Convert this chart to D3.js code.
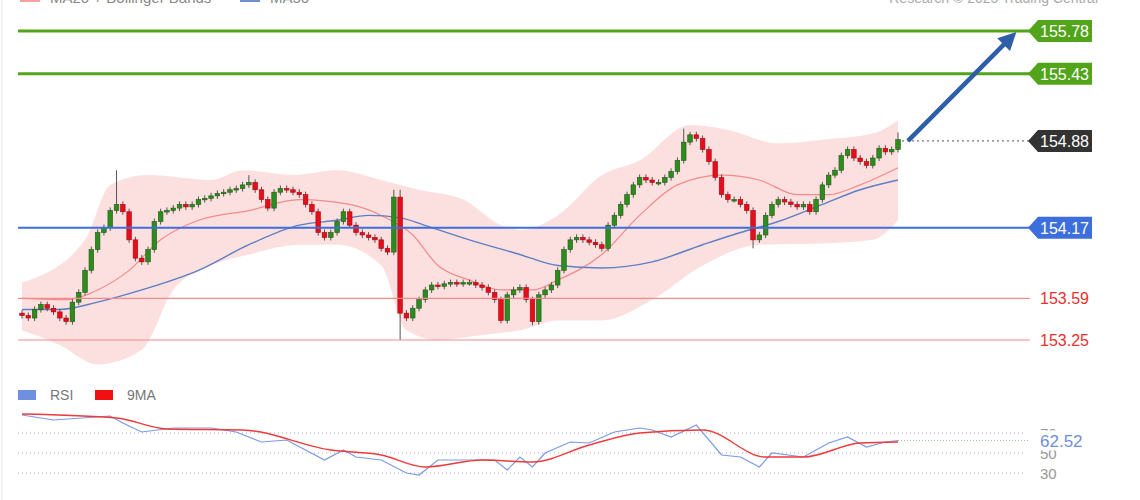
<!DOCTYPE html>
<html>
<head>
<meta charset="utf-8">
<script src="https://cdn.jsdelivr.net/npm/d3@7"></script>
<style>
  body { margin: 0; background: #fff; font-family: "Liberation Sans", Arial, sans-serif; }
  svg { display: block; }
</style>
</head>
<body>
<div class="canvas"></div>
<script>
// price data (candle closes, open = previous close)
const firstOpen = 153.47;
const closes = [
    153.45,153.43,153.50,153.54,153.51,153.48,153.43,153.40,153.56,153.64,
    153.82,153.99,154.13,154.17,154.31,154.36,154.30,154.07,153.92,153.89,
    153.99,154.22,154.30,154.31,154.33,154.36,154.34,154.36,154.40,154.41,
    154.43,154.45,154.46,154.48,154.49,154.52,154.54,154.48,154.40,154.33,
    154.46,154.49,154.48,154.46,154.44,154.36,154.30,154.13,154.09,154.13,
    154.22,154.30,154.19,154.13,154.11,154.09,154.07,154.00,153.97,154.42,
    153.47,153.43,153.51,153.58,153.66,153.70,153.69,153.71,153.72,153.71,
    153.72,153.72,153.70,153.68,153.64,153.58,153.41,153.62,153.66,153.68,
    153.58,153.40,153.62,153.66,153.70,153.82,153.99,154.07,154.09,154.07,
    154.05,154.03,154.00,154.19,154.27,154.36,154.44,154.52,154.58,154.56,
    154.54,154.54,154.58,154.63,154.72,154.87,154.93,154.90,154.81,154.71,
    154.58,154.44,154.40,154.40,154.36,154.31,154.07,154.11,154.27,154.36,
    154.40,154.38,154.36,154.34,154.36,154.30,154.40,154.52,154.60,154.64,
    154.76,154.81,154.74,154.71,154.68,154.74,154.82,154.79,154.81,154.89
];
const highOverrides = {15: 154.64, 36: 154.60, 59: 154.48, 60: 154.48, 105: 154.98, 139: 154.95};
const lowOverrides = {60: 153.25, 81: 153.37, 116: 154.00};
const wick = 0.025;

// [candle index, price]
const bandUpper = [[0,153.72],[10,154.07],[14,154.52],[20,154.60],[30,154.56],[35,154.64],[43,154.60],[50,154.64],[57,154.56],[63,154.48],[70,154.40],[76,154.19],[79,154.15],[85,154.27],[92,154.60],[98,154.72],[106,155.01],[112,154.97],[120,154.86],[127,154.89],[135,154.94],[139,155.05]];
const bandLower = [[0,153.33],[6,153.21],[12,153.05],[19,153.17],[24,153.66],[30,153.86],[36,153.95],[44,154.03],[50,154.03],[57,153.86],[61,153.33],[66,153.25],[73,153.29],[79,153.33],[85,153.41],[92,153.41],[100,153.58],[108,153.86],[117,154.03],[127,154.04],[135,154.07],[139,154.23]];
const ma20 = [[0,153.59],[7,153.58],[12,153.66],[17,153.82],[22,154.07],[28,154.23],[36,154.31],[44,154.40],[52,154.36],[57,154.27],[62,154.11],[66,153.86],[71,153.74],[76,153.66],[81,153.66],[85,153.74],[92,153.95],[98,154.27],[104,154.52],[111,154.60],[117,154.56],[123,154.44],[128,154.44],[133,154.52],[139,154.66]];
const ma50 = [[0,153.50],[6,153.50],[12,153.56],[19,153.66],[28,153.82],[36,154.03],[44,154.19],[50,154.23],[55,154.27],[60,154.25],[65,154.17],[71,154.07],[79,153.95],[85,153.86],[92,153.84],[100,153.89],[108,154.03],[114,154.13],[120,154.22],[127,154.36],[133,154.48],[139,154.56]];

const rsi = [[0,88],[5,83],[14,87],[16,80],[19,71],[24,75],[30,75],[34,71],[38,61],[42,63],[48,43],[51,53],[53,46],[57,43],[61,30],[63,28],[66,43],[75,43],[77,33],[79,46],[81,36],[83,50],[87,61],[90,60],[94,71],[98,75],[100,73],[103,66],[107,78],[111,48],[114,46],[117,36],[119,50],[124,46],[128,60],[131,66],[134,56],[137,61],[139,62.52]];
const rsiMA = [[0,89],[15,85],[23,74],[35,73],[49,53],[57,48],[64,36],[73,43],[81,41],[90,58],[98,70],[108,73],[118,46],[124,46],[133,60],[139,61]];
const rsiLevels = [70, 50, 30];

const levels = [
    {value: 155.78, kind: 'green'},
    {value: 155.43, kind: 'green'},
    {value: 154.88, kind: 'last'},
    {value: 154.17, kind: 'blue'},
    {value: 153.59, kind: 'red'},
    {value: 153.25, kind: 'red'}
];

const svg = d3.select('.canvas').append('svg').attr('width', 1140).attr('height', 500);

const x = d3.scaleLinear().domain([0, closes.length - 1]).range([22, 898]);
const y = d3.scaleLinear().domain([153.25, 155.78]).range([340, 31]);
const yr = d3.scaleLinear().domain([30, 70]).range([473, 433]);

svg.append('line').attr('x1', 2).attr('x2', 2).attr('y1', 0).attr('y2', 500).attr('stroke', '#e4e6ee');

// top legend (cut off)
svg.append('rect').attr('x', 20).attr('y', -4).attr('width', 20).attr('height', 6).attr('fill', '#f7a0a0');
svg.append('text').attr('x', 50).attr('y', 3).attr('font-size', 15).attr('fill', '#888').text('MA20 + Bollinger Bands');
svg.append('rect').attr('x', 240).attr('y', -4).attr('width', 20).attr('height', 6).attr('fill', '#6f8fd0');
svg.append('text').attr('x', 270).attr('y', 3).attr('font-size', 15).attr('fill', '#888').text('MA50');
svg.append('text').attr('x', 1098).attr('y', 3).attr('text-anchor', 'end').attr('font-size', 14).attr('fill', '#aaa').text('Research © 2025 Trading Central');

// bollinger band
const bandData = bandUpper.map((d, i) => ({i: d[0], hi: d[1], lo: null}));
const lowerFn = d3.scaleLinear().domain(bandLower.map(d => d[0])).range(bandLower.map(d => d[1]));
const area = d3.area().curve(d3.curveMonotoneX)
    .x(d => x(d[0])).y0(d => y(d[1])).y1(d => y(d[2]));
const upperPath = d3.line().curve(d3.curveMonotoneX).x(d => x(d[0])).y(d => y(d[1]));
svg.append('path')
    .attr('d', upperPath(bandUpper) + 'L' + upperPath(bandLower.slice().reverse()).slice(1))
    .attr('fill', '#fcd9d9').attr('opacity', 0.85);

const lineGen = d3.line().curve(d3.curveMonotoneX).x(d => x(d[0])).y(d => y(d[1]));
svg.append('path').attr('d', lineGen(ma20)).attr('fill', 'none').attr('stroke', '#f48a8a').attr('stroke-width', 1.2);
svg.append('path').attr('d', lineGen(ma50)).attr('fill', 'none').attr('stroke', '#5d7fc4').attr('stroke-width', 1.4);

// candles
const candles = closes.map((c, i) => {
    const o = i === 0 ? firstOpen : closes[i - 1];
    return {
        i, o, c,
        h: highOverrides[i] ?? Math.max(o, c) + wick,
        l: lowOverrides[i] ?? Math.min(o, c) - wick
    };
});
const cg = svg.append('g');
cg.selectAll('line').data(candles).enter().append('line')
    .attr('x1', d => x(d.i)).attr('x2', d => x(d.i))
    .attr('y1', d => y(d.h)).attr('y2', d => y(d.l))
    .attr('stroke', '#555').attr('stroke-width', 1);
cg.selectAll('rect').data(candles).enter().append('rect')
    .attr('x', d => x(d.i) - 2.3).attr('width', 4.6)
    .attr('y', d => y(Math.max(d.o, d.c)))
    .attr('height', d => Math.max(1.5, Math.abs(y(d.o) - y(d.c))))
    .attr('fill', d => d.c >= d.o ? '#2e8b1e' : '#e3101c')
    .attr('stroke', d => d.c >= d.o ? '#1d5a12' : '#b00010').attr('stroke-width', 0.6);

// horizontal levels & labels
const styles = {
    green: {stroke: '#52a41a', width: 3, box: '#52a41a', text: '#fff'},
    blue: {stroke: '#3d6fdc', width: 2, box: '#3d6fdc', text: '#fff'},
    last: {stroke: '#555', width: 1, box: '#333', text: '#fff'},
    red: {stroke: '#f28b8b', width: 1.2, box: null, text: '#e83030'}
};
levels.forEach(lv => {
    const s = styles[lv.kind];
    const yy = y(lv.value);
    const ln = svg.append('line').attr('y1', yy).attr('y2', yy)
        .attr('x1', lv.kind === 'last' ? x(closes.length - 1) + 4 : 18).attr('x2', 1030)
        .attr('stroke', s.stroke).attr('stroke-width', s.width);
    if (lv.kind === 'last') ln.attr('stroke-dasharray', '2,3');
    if (s.box) {
        svg.append('path')
            .attr('d', `M1028,${yy} L1038,${yy - 11} L1092,${yy - 11} L1092,${yy + 11} L1038,${yy + 11} Z`)
            .attr('fill', s.box);
    }
    svg.append('text').attr('x', 1040).attr('y', yy + 6).attr('font-size', 16)
        .attr('fill', s.text).text(lv.value.toFixed(2));
});

// arrow
svg.append('defs').append('marker').attr('id', 'ah').attr('viewBox', '0 0 10 10')
    .attr('refX', 5).attr('refY', 5).attr('markerWidth', 4).attr('markerHeight', 4).attr('orient', 'auto')
    .append('path').attr('d', 'M0,0 L10,5 L0,10 Z').attr('fill', '#2f5ea8');
svg.append('line').attr('x1', x(closes.length - 1) + 10).attr('y1', y(154.88))
    .attr('x2', 1010).attr('y2', y(155.72))
    .attr('stroke', '#2f5ea8').attr('stroke-width', 4.5).attr('marker-end', 'url(#ah)');

// RSI panel
svg.append('rect').attr('x', 18).attr('y', 390).attr('width', 18).attr('height', 10).attr('fill', '#6f8fe0');
svg.append('text').attr('x', 50).attr('y', 400).attr('font-size', 14).attr('fill', '#777').text('RSI');
svg.append('rect').attr('x', 95).attr('y', 390).attr('width', 18).attr('height', 10).attr('fill', '#f01010');
svg.append('text').attr('x', 127).attr('y', 400).attr('font-size', 14).attr('fill', '#777').text('9MA');

rsiLevels.forEach(v => {
    svg.append('line').attr('x1', 18).attr('x2', 1025).attr('y1', yr(v)).attr('y2', yr(v))
        .attr('stroke', '#a0a8c8').attr('stroke-dasharray', '1,3');
    svg.append('text').attr('x', 1040).attr('y', yr(v) + 6).attr('font-size', 15).attr('fill', '#999').text(v);
});
const rline = d3.line().x(d => x(d[0])).y(d => yr(d[1]));
svg.append('path').attr('d', rline(rsi)).attr('fill', 'none').attr('stroke', '#7a99e6').attr('stroke-width', 1.2);
svg.append('path').attr('d', d3.line().curve(d3.curveMonotoneX).x(d => x(d[0])).y(d => yr(d[1]))(rsiMA))
    .attr('fill', 'none').attr('stroke', '#f03a3a').attr('stroke-width', 1.4);
const lastR = rsi[rsi.length - 1][1];
svg.append('line').attr('x1', x(closes.length - 1)).attr('x2', 1030).attr('y1', yr(lastR)).attr('y2', yr(lastR))
    .attr('stroke', '#9fb4ea').attr('stroke-dasharray', '1,2');
svg.append('rect').attr('x', 1036).attr('y', yr(lastR) - 10).attr('width', 50).attr('height', 20).attr('fill', '#fff');
svg.append('text').attr('x', 1040).attr('y', yr(lastR) + 7).attr('font-size', 17).attr('fill', '#6f8fd8').text(lastR.toFixed(2));
</script>
</body>
</html>
